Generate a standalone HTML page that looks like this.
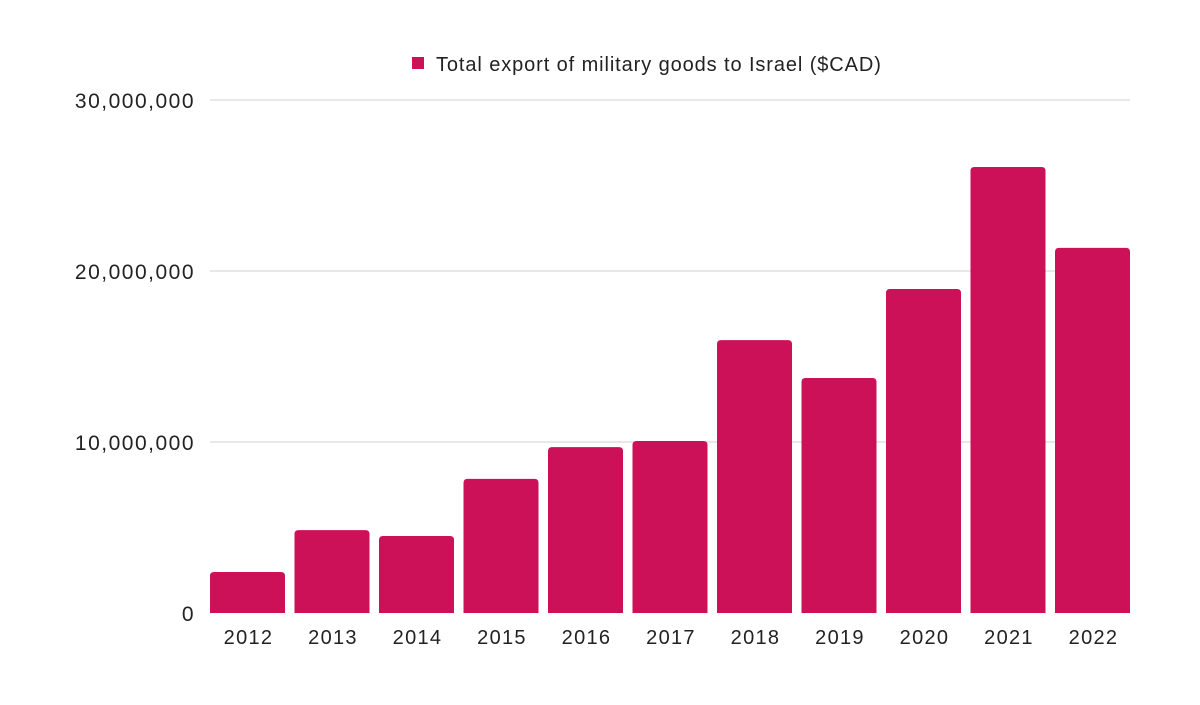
<!DOCTYPE html>
<html><head><meta charset="utf-8"><style>
body{margin:0;background:#fff;}
svg text{font-family:"Liberation Sans",sans-serif;fill:#222;}
</style></head><body>
<svg id="chart" width="1200" height="700" xmlns="http://www.w3.org/2000/svg">
<rect width="1200" height="700" fill="#fff"/>
<g id="legend">
<rect x="412" y="57" width="12" height="12" fill="#CC1158"/>
<text x="436" y="71" font-size="20" letter-spacing="0.9">Total export of military goods to Israel ($CAD)</text>
</g>
<g id="grid"></g><g id="bars"></g><g id="xlabels"></g>
</svg>
<script>
const categories=["2012","2013","2014","2015","2016","2017","2018","2019","2020","2021","2022"];
const values=[2400000,4850000,4500000,7840000,9700000,10060000,15960000,13740000,18950000,26080000,21350000];
const yTicks=[0,10000000,20000000,30000000];
const yTickLabels=["0","10,000,000","20,000,000","30,000,000"];
const NS="http://www.w3.org/2000/svg";
const x0=210,x1=1130,yBase=613,yTop=100,yMax=30000000;
const y=v=>yBase-(v/yMax)*(yBase-yTop);
const bw=75;
const grid=document.getElementById('grid');
yTicks.forEach((t,i)=>{
  if(t>0){const l=document.createElementNS(NS,'line');
  l.setAttribute('x1',x0);l.setAttribute('x2',x1);l.setAttribute('y1',y(t));l.setAttribute('y2',y(t));
  l.setAttribute('stroke','#d0d0d0');l.setAttribute('stroke-width','1');
  
  
  grid.appendChild(l);}
  const tx=document.createElementNS(NS,'text');
  tx.setAttribute('x',195);tx.setAttribute('y',y(t)+8);tx.setAttribute('text-anchor','end');tx.setAttribute('font-size','21');tx.setAttribute('letter-spacing','1.5');
  tx.textContent=yTickLabels[i];
  
  
  grid.appendChild(tx);
});
const bars=document.getElementById('bars'),xl=document.getElementById('xlabels');
categories.forEach((c,i)=>{
  const bx=x0+i*(x1-x0-bw)/(categories.length-1);
  const top=y(values[i]),r=4;
  const p=document.createElementNS(NS,'path');
  p.setAttribute('d',`M${bx},${yBase}V${top+r}Q${bx},${top} ${bx+r},${top}H${bx+bw-r}Q${bx+bw},${top} ${bx+bw},${top+r}V${yBase}Z`);
  p.setAttribute('fill','#CC1158');
  
  
  bars.appendChild(p);
  const t=document.createElementNS(NS,'text');
  t.setAttribute('x',bx+bw/2+1);t.setAttribute('y',644);t.setAttribute('text-anchor','middle');t.setAttribute('font-size','20');t.setAttribute('letter-spacing','1.3');
  t.textContent=c;
  
  
  xl.appendChild(t);
});
</script>
</body></html>
